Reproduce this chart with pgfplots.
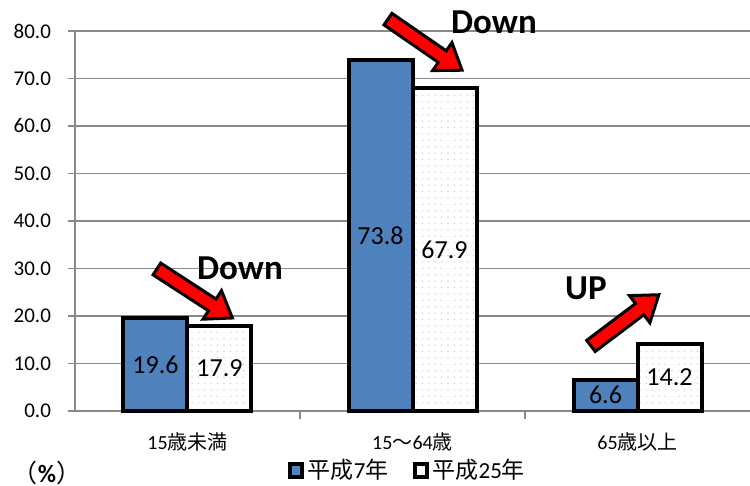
\documentclass[border=0pt]{standalone}
\usepackage{fontspec}
\setmainfont{Carlito}
\newfontfamily\cjk{Noto Sans CJK JP}
\usepackage{pgfplots}
\pgfplotsset{compat=1.18}
\usetikzlibrary{patterns}
\definecolor{barblue}{HTML}{4F81BD}
\definecolor{gridgray}{HTML}{898989}
\pgfdeclarepatternformonly{sparsedots}{\pgfqpoint{-0.5pt}{-0.5pt}}{\pgfqpoint{0.5pt}{0.5pt}}{\pgfqpoint{3.2pt}{3.2pt}}{\pgfpathcircle{\pgfqpoint{0pt}{0pt}}{0.3pt}\pgfusepath{fill}}
\pgfplotsset{
  sqlegend/.style={legend image code/.code={\draw[##1, line width=2pt] (0.5pt,-3pt) rectangle (6.5pt,3.5pt);}},
}
\begin{document}
\begin{tikzpicture}
\begin{axis}[
  name=ax,
  width=337.5pt, height=190pt, scale only axis,
  ybar=0pt, bar width=32pt,
  xmin=-0.5, xmax=2.5, ymin=0, ymax=80,
  clip=false,
  axis x line*=bottom, axis y line*=left,
  axis line style={draw=gridgray, line width=0.75pt, -},
  ymajorgrids, grid style={draw=gridgray, line width=0.75pt},
  ytick={0,10,...,80},
  tick align=outside, major tick length=3.5pt,
  y tick style={draw=gridgray, line width=0.75pt},
  yticklabel style={font=\fontsize{10.5}{12}\selectfont, xshift=-5pt, /pgf/number format/.cd, fixed, fixed zerofill, precision=1, assume math mode=true},
  xtick={0,1,2},
  xticklabels={{15{\cjk 歳未満}},{15{\cjk ～}64{\cjk 歳}},{65{\cjk 歳以上}}},
  xticklabel style={font=\fontsize{10}{12}\selectfont, yshift=-4pt},
  x tick style={draw=none},
  extra x ticks={0.5,1.5},
  extra x tick labels={},
  extra x tick style={x tick style={draw=gridgray, line width=0.75pt}, major tick length=4pt},
  visualization depends on=y \as \rawy,
  nodes near coords,
  nodes near coords style={font=\fontsize{13}{15}\selectfont, anchor=center, yshift={-1.1875*\rawy}, /pgf/number format/.cd, fixed, fixed zerofill, precision=1, assume math mode=true},
  legend style={at={(0.494,-0.157)}, anchor=center, draw=none, fill=none, legend columns=2, font=\fontsize{11.5}{13}\selectfont, /tikz/every even column/.append style={column sep=10pt}},
]
\addplot[fill=barblue, draw=black, line width=2pt, sqlegend] coordinates {(0,19.6) (1,73.8) (2,6.6)};
\addlegendentry{{\cjk 平成}7{\cjk 年}}
\addplot[fill=white, draw=black, line width=2pt, postaction={pattern=sparsedots, pattern color=gray!55}, sqlegend] coordinates {(0,17.9) (1,67.9) (2,14.2)};
\addlegendentry{{\cjk 平成}25{\cjk 年}}

% red arrows
\draw[fill=red, draw=black, line width=1.5pt, line join=miter, shift={(axis cs:-0.136,29.9)}, rotate=-33]
  (0pt,-3.5pt) -- (33pt,-3.5pt) -- (33pt,-8.5pt) -- (45pt,0pt) -- (33pt,8.5pt) -- (33pt,3.5pt) -- (0pt,3.5pt) -- cycle;
\draw[fill=red, draw=black, line width=1.5pt, line join=miter, shift={(axis cs:0.891,82.5)}, rotate=-34.6]
  (0pt,-3.5pt) -- (33pt,-3.5pt) -- (33pt,-8.5pt) -- (45pt,0pt) -- (33pt,8.5pt) -- (33pt,3.5pt) -- (0pt,3.5pt) -- cycle;
\draw[fill=red, draw=black, line width=1.5pt, line join=miter, shift={(axis cs:1.793,13.7)}, rotate=37]
  (0pt,-3.5pt) -- (30.5pt,-3.5pt) -- (30.5pt,-8.5pt) -- (42.5pt,0pt) -- (30.5pt,8.5pt) -- (30.5pt,3.5pt) -- (0pt,3.5pt) -- cycle;
\node[font=\bfseries\fontsize{17.5}{20}\selectfont] at (axis cs:0.233,30.1) {Down};
\node[font=\bfseries\fontsize{17.5}{20}\selectfont] at (axis cs:1.362,81.9) {Down};
\node[font=\bfseries\fontsize{17.5}{20}\selectfont] at (axis cs:1.771,25.9) {UP};
\node[font=\fontsize{12.5}{14}\selectfont] at (axis description cs:-0.0415,-0.163) {{\cjk （}\textbf{\%}{\cjk ）}};
\end{axis}
\pgfresetboundingbox
\path[use as bounding box] ([xshift=-37.5pt,yshift=-37.5pt]ax.south west) rectangle ([yshift=15.5pt]ax.north east);
\end{tikzpicture}
\end{document}
